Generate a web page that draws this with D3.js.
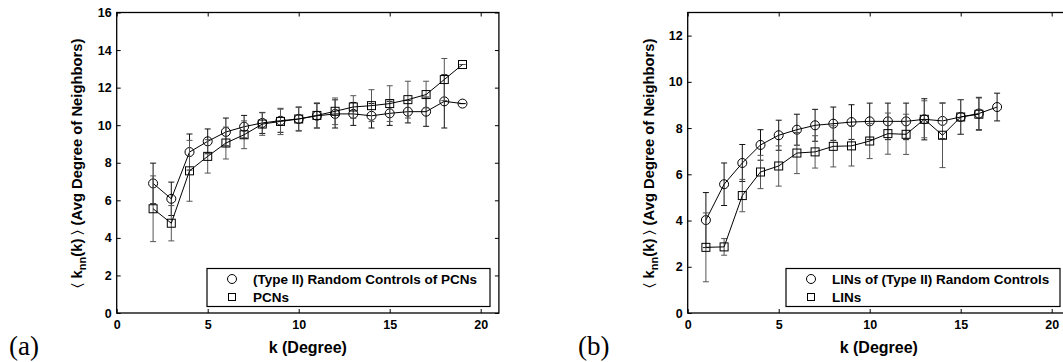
<!DOCTYPE html>
<html>
<head>
<meta charset="utf-8">
<script src="https://cdn.jsdelivr.net/npm/d3@7"></script>
<style>
  body { margin: 0; background: #fff; }
  svg { display: block; }
  .tick text { font-family: Arial, "Liberation Sans", sans-serif; font-weight: bold; font-size: 12.5px; fill: #000; }
  .tick line { stroke: #000; }
  .lbl { font-family: Arial, "Liberation Sans", sans-serif; font-weight: bold; fill: #000; }
</style>
</head>
<body>
<div id="chart"></div>
<script>
// ---- data (a): PCNs ----
var degA = [2, 3, 4, 5, 6, 7, 8, 9, 10, 11, 12, 13, 14, 15, 16, 17, 18, 19];
var randA = [6.9, 6.08, 8.57, 9.14, 9.64, 9.92, 10.12, 10.24, 10.33, 10.5, 10.6, 10.6, 10.5, 10.63, 10.72, 10.72, 11.27, 11.15];
var randErrA = [1.08, 0.89, 0.96, 0.66, 0.74, 0.6, 0.56, 0.62, 0.64, 0.65, 0.75, 0.61, 0.65, 0.64, 0.6, 0.78, 1.42, 0];
var pcn = [5.55, 4.78, 7.57, 8.34, 9.05, 9.49, 10.06, 10.2, 10.33, 10.52, 10.74, 10.97, 11.04, 11.15, 11.36, 11.63, 12.43, 13.23];
var pcnErr = [1.75, 0.94, 1.62, 0.89, 0.85, 0.74, 0.6, 0.7, 0.61, 0.67, 0.71, 0.6, 0.85, 0.95, 0.98, 0.71, 1.12, 0];

// ---- data (b): LINs ----
var degB1 = [1, 2, 3, 4, 5, 6, 7, 8, 9, 10, 11, 12, 13, 14, 15, 16, 17];
var randB = [4.02, 5.57, 6.49, 7.27, 7.69, 7.93, 8.12, 8.19, 8.26, 8.29, 8.29, 8.29, 8.38, 8.31, 8.48, 8.63, 8.91];
var randErrB = [1.19, 0.92, 0.8, 0.66, 0.65, 0.67, 0.69, 0.72, 0.75, 0.79, 0.79, 0.79, 0.89, 0.77, 0.75, 0.7, 0.6];
var degB2 = [1, 2, 3, 4, 5, 6, 7, 8, 9, 10, 11, 12, 13, 14, 15, 16];
var lin = [2.84, 2.86, 5.08, 6.1, 6.36, 6.92, 6.97, 7.21, 7.23, 7.44, 7.76, 7.73, 8.38, 7.69, 8.48, 8.6];
var linErr = [1.49, 0.36, 0.7, 0.72, 0.87, 0.89, 0.7, 0.89, 0.87, 0.76, 0.89, 0.87, 0.8, 1.4, 0.75, 0.7];

var xTicks = [0, 5, 10, 15, 20];
var yTicksA = [0, 2, 4, 6, 8, 10, 12, 14, 16];
var yTicksB = [0, 2, 4, 6, 8, 10, 12];

var W = 1063, H = 362;
var svg = d3.select("#chart").append("svg")
    .attr("width", W)
    .attr("height", H);

function drawPanel(p) {
  var x = d3.scaleLinear().domain([0, 21]).range([p.left, p.left + 382.2]);
  var y = d3.scaleLinear().domain([0, p.ymax]).range([313, 12.5]);
  var g = svg.append("g");

  // inward ticks, all four sides
  g.append("g").attr("transform", "translate(0,313)")
    .call(d3.axisBottom(x).tickValues(xTicks).tickSize(-4).tickSizeOuter(0).tickPadding(7))
    .call(s => s.select(".domain").remove());
  g.append("g").attr("transform", "translate(0,12.5)")
    .call(d3.axisTop(x).tickValues(xTicks).tickSize(-4).tickSizeOuter(0).tickFormat(""))
    .call(s => s.select(".domain").remove());
  g.append("g").attr("transform", "translate(" + p.left + ",0)")
    .call(d3.axisLeft(y).tickValues(p.yTicks).tickSize(-4).tickSizeOuter(0).tickPadding(5))
    .call(s => s.select(".domain").remove());
  g.append("g").attr("transform", "translate(" + x(21) + ",0)")
    .call(d3.axisRight(y).tickValues(p.yTicks).tickSize(-4).tickSizeOuter(0).tickFormat(""))
    .call(s => s.select(".domain").remove());

  // frame
  g.append("rect")
    .attr("x", x(0)).attr("y", y(p.ymax))
    .attr("width", x(21) - x(0)).attr("height", y(0) - y(p.ymax))
    .attr("fill", "none").attr("stroke", "#000").attr("stroke-width", 1.3);

  var line = d3.line().x(d => x(d[0])).y(d => y(d[1]));

  p.series.forEach(function(s) {
    var pts = s.k.map((k, i) => [k, s.v[i], s.e[i]]);
    // error bars
    var eb = g.append("g").attr("stroke", s.ebColor).attr("stroke-width", 1).attr("fill", "none");
    pts.forEach(function(d) {
      var x0 = x(d[0]), y1 = y(d[1] + d[2]), y2 = y(d[1] - d[2]);
      eb.append("line").attr("x1", x0).attr("x2", x0).attr("y1", y1).attr("y2", y2);
      eb.append("line").attr("x1", x0 - 3).attr("x2", x0 + 3).attr("y1", y1).attr("y2", y1);
      eb.append("line").attr("x1", x0 - 3).attr("x2", x0 + 3).attr("y1", y2).attr("y2", y2);
    });
    g.append("path").datum(pts)
      .attr("d", line)
      .attr("fill", "none").attr("stroke", "#000").attr("stroke-width", 1);
    var m = g.append("g").attr("fill", "none").attr("stroke", "#000").attr("stroke-width", 1);
    pts.forEach(function(d) {
      if (s.shape === "circle") {
        m.append("circle").attr("cx", x(d[0])).attr("cy", y(d[1])).attr("r", 4.5);
      } else {
        m.append("rect").attr("x", x(d[0]) - 4).attr("y", y(d[1]) - 4).attr("width", 8).attr("height", 8);
      }
    });
  });

  // legend
  var lg = g.append("g");
  lg.append("rect")
    .attr("x", p.legX).attr("y", 268.5).attr("width", p.legW).attr("height", 38)
    .attr("fill", "#fff").attr("stroke", "#000").attr("stroke-width", 1.2);
  p.series.forEach(function(s, i) {
    var cy = 279 + i * 18;
    if (s.shape === "circle") {
      lg.append("circle").attr("cx", p.legX + 25).attr("cy", cy).attr("r", 4.5)
        .attr("fill", "none").attr("stroke", "#000");
    } else {
      lg.append("rect").attr("x", p.legX + 21.5).attr("y", cy - 3.5).attr("width", 7).attr("height", 7)
        .attr("fill", "none").attr("stroke", "#000");
    }
    lg.append("text").attr("class", "lbl")
      .attr("x", p.legX + 46).attr("y", cy + 5)
      .style("font-size", "13.5px")
      .text(s.name);
  });

  // axis labels
  g.append("text").attr("class", "lbl")
    .attr("x", x(10.5)).attr("y", 353)
    .attr("text-anchor", "middle")
    .style("font-size", "16px")
    .text("k (Degree)");

  var yl = g.append("text").attr("class", "lbl")
    .attr("transform", "translate(" + p.ylabX + ",163) rotate(-90)")
    .attr("text-anchor", "middle")
    .style("font-size", "14.8px");
  yl.append("tspan").style("font-weight", "normal").text("\u2329 ");
  yl.append("tspan").text("k");
  yl.append("tspan").attr("dy", 4).style("font-size", "11px").text("nn");
  yl.append("tspan").attr("dy", -4).text("(k) ");
  yl.append("tspan").style("font-weight", "normal").text("\u232A");
  yl.append("tspan").text(" (Avg Degree of Neighbors)");

  // panel letter
  svg.append("text")
    .attr("x", p.tagX).attr("y", 355)
    .style("font-family", "'Liberation Serif', 'DejaVu Serif', serif")
    .style("font-size", "27px")
    .text(p.tag);
}

drawPanel({
  left: 116.7, ymax: 16, yTicks: yTicksA,
  legX: 207, legW: 283, ylabX: 82, tagX: 9, tag: "(a)",
  series: [
    { name: "(Type II) Random Controls of PCNs", shape: "circle", k: degA, v: randA, e: randErrA, ebColor: "#111" },
    { name: "PCNs", shape: "square", k: degA, v: pcn, e: pcnErr, ebColor: "#555" }
  ]
});

drawPanel({
  left: 687.7, ymax: 13, yTicks: yTicksB,
  legX: 786, legW: 274, ylabX: 654, tagX: 578, tag: "(b)",
  series: [
    { name: "LINs of (Type II) Random Controls", shape: "circle", k: degB1, v: randB, e: randErrB, ebColor: "#111" },
    { name: "LINs", shape: "square", k: degB2, v: lin, e: linErr, ebColor: "#555" }
  ]
});
</script>
</body>
</html>
